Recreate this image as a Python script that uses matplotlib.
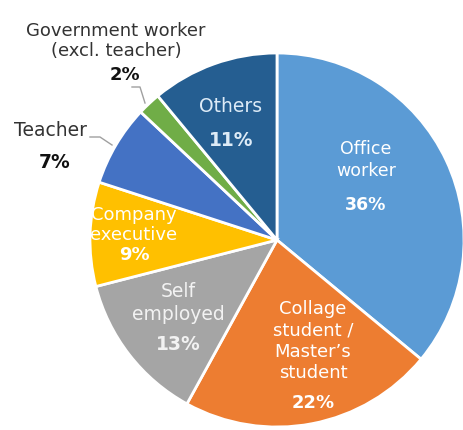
import matplotlib.pyplot as plt

labels = ["Office\nworker", "Collage\nstudent /\nMaster\u2019s\nstudent", "Self\nemployed",
          "Company\nexecutive", "Teacher", "Government worker\n(excl. teacher)", "Others"]
shares = [36, 22, 13, 9, 7, 2, 11]
colors = ["#5B9BD5", "#ED7D31", "#A5A5A5", "#FFC000", "#4472C4", "#70AD47", "#255E91"]

# label anchor (name centre, percent centre) in pixel space, y measured from top
name_pos = [(366, 160), (313, 341), (178, 303), (134, 225), (50, 131), (116, 41), (231, 107)]
pct_pos = [(366, 205), (313, 403), (178, 345), (134, 255), (55, 163), (125, 75), (231, 141)]
name_col = ["white", "white", "#F2F2F2", "white", "#333333", "#333333", "#DDEBF7"]
pct_col = ["white", "white", "#F2F2F2", "white", "#111111", "#111111", "#DDEBF7"]
name_size = [12.5, 13, 13.5, 13, 13.5, 13, 13.5]
name_spacing = [1.35, 1.25, 1.3, 1.1, 1.0, 1.1, 1.0]

W, H = 463, 430
fig = plt.figure(figsize=(W / 100, H / 100), dpi=100)
ax = fig.add_axes([0, 0, 1, 1])

ax.pie(shares, colors=colors, startangle=90, counterclock=False,
       center=(277, H - 240), radius=187,
       wedgeprops=dict(edgecolor="white", linewidth=2))
# pie() resets the limits, so fix the pixel frame afterwards
ax.set_xlim(0, W)
ax.set_ylim(0, H)
ax.set_aspect("equal")
ax.axis("off")

for i, (name, pct) in enumerate(zip(labels, shares)):
    nx, ny = name_pos[i]
    px, py = pct_pos[i]
    ax.text(nx, H - ny, name, ha="center", va="center", fontsize=name_size[i],
            color=name_col[i], linespacing=name_spacing[i])
    ax.text(px, H - py, f"{pct}%", ha="center", va="center", fontsize=name_size[i],
            color=pct_col[i], fontweight="bold")

# leader lines for the small outside slices
ax.plot([90, 100, 112], [H - 137, H - 137, H - 145], color="#A0A0A0", lw=1)
ax.plot([132, 140, 145], [H - 87, H - 87, H - 103], color="#A0A0A0", lw=1)

fig.savefig("out.png", dpi=100, facecolor="white")
